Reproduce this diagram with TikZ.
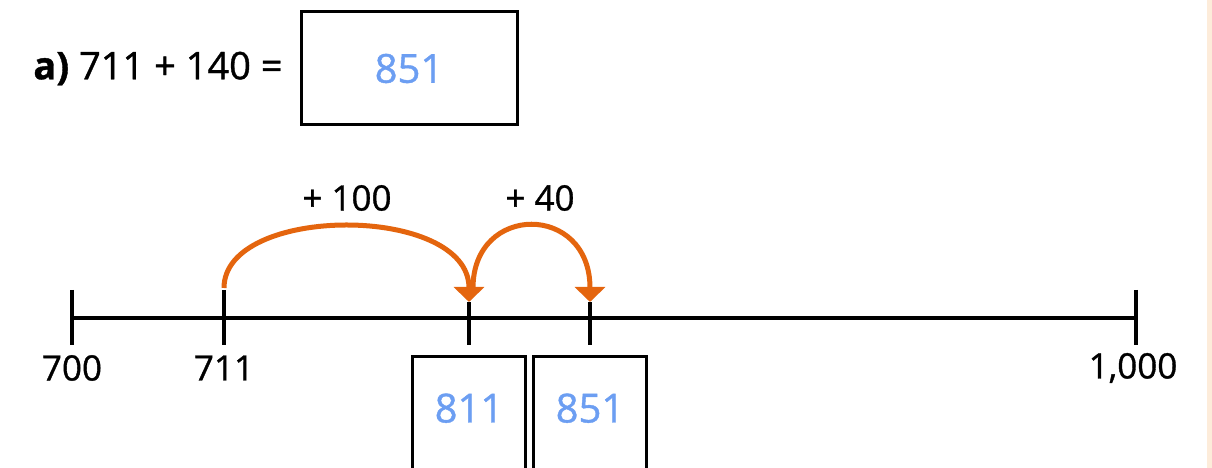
\documentclass[tikz,border=0pt]{standalone}
\usepackage{fontspec}
\setmainfont{Open Sans}[FakeBold=1]
\usetikzlibrary{arrows.meta}
\usetikzlibrary{positioning}
\definecolor{jumpOrange}{RGB}{228,101,14}
\definecolor{penBlue}{RGB}{108,158,242}
\definecolor{edgePeach}{RGB}{253,236,218}
\newcommand{\taskFont}{\fontsize{38}{45}\selectfont}
\newcommand{\numFont}{\fontsize{35}{42}\selectfont}
\newcommand{\penFont}{\fontsize{40}{48}\selectfont}

\begin{document}
\begin{tikzpicture}[x=1pt,y=1pt,line width=4pt,
    jump/.style={jumpOrange,line width=5pt,-{Triangle[width=30pt,length=15pt]}},
    answer/.style={draw,line width=3pt,text=penBlue,font=\penFont},
    numlabel/.style={font=\numFont,inner sep=0pt}]
  \clip (0,0) rectangle (1212,468);
  \fill[edgePeach] (1207,0) rectangle (1212,468);

  % question and answer box
  \node[answer, minimum width=216pt, minimum height=113pt] (sum) at (409,399.5) {851};
  \node[font=\taskFont, inner sep=0pt, left=15pt of sum] (task) {\textbf{a)} 711 + 140 =};

  % the number line
  \coordinate (p700) at (72,150);
  \coordinate (p711) at (224,150);
  \coordinate (p811) at (469,150);
  \coordinate (p851) at (590,150);
  \coordinate (p1000) at (1136,150);
  \draw (p700) -- (p1000);
  \foreach \p in {p700,p711,p1000}
    \draw ([yshift=28pt]\p) -- ([yshift=-27pt]\p);
  \foreach \p in {p811,p851}
    \draw ([yshift=16pt]\p) -- ([yshift=-27pt]\p);

  \node[numlabel] (l700) at (72,100) {700};
  \node[numlabel] (l711) at (224,100) {711};
  \node[numlabel] (l1000) at (1133,100) {1,000};

  % boxes under the jumps
  \node[answer, anchor=north, minimum width=113pt, inner ysep=0pt,
        text height=66pt, text depth=76pt, below=37pt of p811] (b811) {811};
  \node[answer, anchor=north, minimum width=113pt, inner ysep=0pt,
        text height=66pt, text depth=76pt, below=37pt of p851] (b851) {851};

  % jumps
  \coordinate (s711) at ([yshift=30pt]p711);
  \coordinate (e811) at ([yshift=16pt]p811);
  \coordinate (s811) at ([xshift=4pt,yshift=30pt]p811);
  \coordinate (e851) at ([yshift=16pt]p851);
  \draw[jump] (s711) .. controls +(0,84) and +(0,98) .. (e811);
  \draw[jump] (s811) .. controls +(0,85) and +(0,99) .. (e851);

  \node[numlabel] (j100) at (347,270) {+ 100};
  \node[numlabel] (j40) at (540,270) {+ 40};
\end{tikzpicture}
\end{document}
